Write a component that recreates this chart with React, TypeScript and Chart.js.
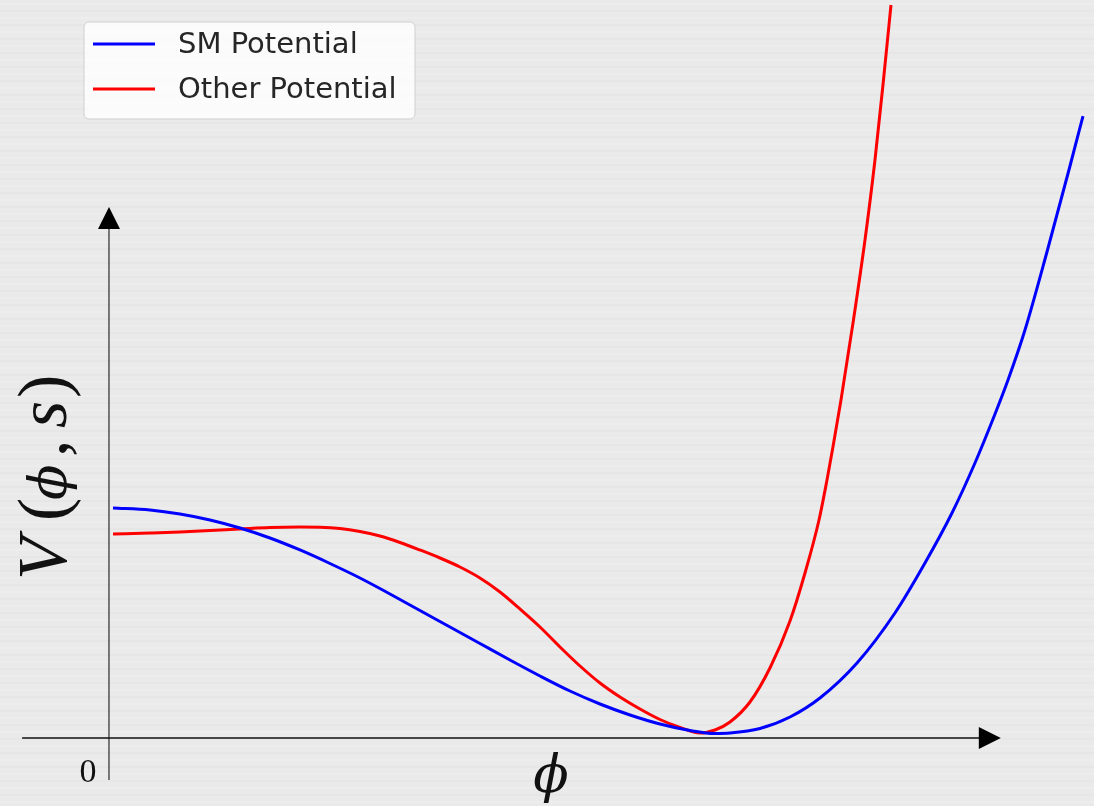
import { useEffect, useRef } from "react";
import { Chart, registerables } from "chart.js";

Chart.register(...registerables);

// phi values (field, in units of the vev) and potential values V (arbitrary units)
const smPhi = [0.0068, 0.0694, 0.1201, 0.1709, 0.2217, 0.2724, 0.3232, 0.3739, 0.4247, 0.4755, 0.5262, 0.577, 0.6277, 0.6785, 0.7293, 0.78, 0.8308, 0.8816, 0.9323, 0.9831, 1.0254, 1.0508, 1.1015, 1.1523, 1.203, 1.2657, 1.3299, 1.3807, 1.4264, 1.4653, 1.4992, 1.5212, 1.5499, 1.5871, 1.6261, 1.6481];
const smV = [1.0, 0.9913, 0.9739, 0.9478, 0.913, 0.8696, 0.8174, 0.7587, 0.6957, 0.6261, 0.5543, 0.4826, 0.4109, 0.3391, 0.2696, 0.2043, 0.1478, 0.1, 0.0609, 0.0326, 0.0196, 0.0217, 0.0413, 0.0913, 0.1739, 0.3261, 0.5435, 0.7609, 0.9783, 1.1957, 1.4087, 1.5565, 1.7739, 2.113, 2.487, 2.7043];

const otherPhi = [0.0068, 0.0694, 0.1201, 0.1709, 0.2217, 0.2724, 0.3232, 0.357, 0.3909, 0.4247, 0.4585, 0.4924, 0.5262, 0.5601, 0.5939, 0.6277, 0.6616, 0.6954, 0.7293, 0.7631, 0.797, 0.8308, 0.8646, 0.8985, 0.9323, 0.9662, 1.0, 1.0254, 1.0508, 1.0846, 1.1184, 1.1523, 1.1777, 1.2014, 1.2149, 1.225, 1.2386, 1.2597, 1.2792, 1.2961, 1.3105, 1.3232];
const otherV = [0.887, 0.8913, 0.8957, 0.9022, 0.9087, 0.9152, 0.9174, 0.9165, 0.9109, 0.8978, 0.8783, 0.85, 0.8174, 0.7826, 0.7435, 0.6957, 0.6348, 0.5609, 0.4826, 0.3957, 0.313, 0.2391, 0.1783, 0.1261, 0.0804, 0.0457, 0.0217, 0.0348, 0.0696, 0.1565, 0.3043, 0.5087, 0.7174, 0.9478, 1.1217, 1.2652, 1.4696, 1.8174, 2.1652, 2.513, 2.8609, 3.187];

const seriesLabels = ["SM Potential", "Other Potential"];
const seriesColors = ["#0000ff", "#ff0000"];

// view window and axis extents (data units)
const X_MIN = -0.1844;
const X_MAX = 1.6667;
const Y_MIN = -0.2957;
const Y_MAX = 3.2087;
const X_AXIS_FROM = -0.147;
const X_AXIS_TO = 1.509;
const Y_AXIS_FROM = -0.183;
const Y_AXIS_TO = 2.309;

const W = 1094;
const H = 806;

const SERIF = "'Liberation Serif', 'DejaVu Serif', serif";

const decorPlugin = {
  id: "decor",
  beforeDraw(chart: any) {
    const ctx = chart.ctx as CanvasRenderingContext2D;
    ctx.save();
    ctx.fillStyle = "#eaeaea";
    ctx.fillRect(0, 0, chart.width, chart.height);
    // faint horizontal paper streaks
    ctx.globalAlpha = 0.35;
    for (let y = 3; y < chart.height; y += 7) {
      ctx.fillStyle = (y / 7) % 2 < 1 ? "#f4f4f4" : "#e0e0e0";
      ctx.fillRect(0, y, chart.width, 2);
    }
    ctx.restore();

    const xs = chart.scales.x;
    const ys = chart.scales.y;
    const x0 = xs.getPixelForValue(0);
    const y0 = ys.getPixelForValue(0);

    ctx.save();
    // y axis
    const yTop = ys.getPixelForValue(Y_AXIS_TO);
    const yBot = ys.getPixelForValue(Y_AXIS_FROM);
    ctx.strokeStyle = "#3a3a3a";
    ctx.lineWidth = 1.3;
    ctx.beginPath();
    ctx.moveTo(x0, yBot);
    ctx.lineTo(x0, yTop + 20);
    ctx.stroke();
    ctx.fillStyle = "#000";
    ctx.beginPath();
    ctx.moveTo(x0, yTop);
    ctx.lineTo(x0 - 11, yTop + 22);
    ctx.lineTo(x0 + 11, yTop + 22);
    ctx.closePath();
    ctx.fill();

    // x axis
    const xL = xs.getPixelForValue(X_AXIS_FROM);
    const xR = xs.getPixelForValue(X_AXIS_TO);
    ctx.strokeStyle = "#111";
    ctx.lineWidth = 1.5;
    ctx.beginPath();
    ctx.moveTo(xL, y0);
    ctx.lineTo(xR - 20, y0);
    ctx.stroke();
    ctx.beginPath();
    ctx.moveTo(xR, y0);
    ctx.lineTo(xR - 22, y0 - 11);
    ctx.lineTo(xR - 22, y0 + 11);
    ctx.closePath();
    ctx.fill();

    // "0" label
    ctx.fillStyle = "#111";
    ctx.font = `34px ${SERIF}`;
    ctx.textAlign = "center";
    ctx.textBaseline = "alphabetic";
    ctx.fillText("0", x0 - 21, y0 + 44);

    // phi label
    ctx.font = "italic 52px 'DejaVu Serif', serif";
    ctx.fillText("\u03D5", xs.getPixelForValue(0.748), y0 + 54);

    // y label V(phi, s), rotated
    ctx.rotate(-Math.PI / 2);
    ctx.textAlign = "left";
    ctx.textBaseline = "alphabetic";
    const base = 66;
    const parts: [string, string, number][] = [
      ["V", `italic 70px ${SERIF}`, 580],
      ["(", `70px ${SERIF}`, 521],
      ["\u03D5", "italic 52px 'DejaVu Serif', serif", 500],
      [",", `70px ${SERIF}`, 457],
      ["s", `italic 70px ${SERIF}`, 428],
      [")", `70px ${SERIF}`, 398],
    ];
    parts.forEach(([t, f, start]) => {
      ctx.font = f;
      ctx.fillText(t, -start, base);
    });
    ctx.restore();
  },
  afterDatasetsDraw(chart: any) {
    const ctx = chart.ctx as CanvasRenderingContext2D;
    ctx.save();
    const bx = 84, by = 22, bw = 331, bh = 97, r = 5;
    ctx.beginPath();
    ctx.moveTo(bx + r, by);
    ctx.arcTo(bx + bw, by, bx + bw, by + bh, r);
    ctx.arcTo(bx + bw, by + bh, bx, by + bh, r);
    ctx.arcTo(bx, by + bh, bx, by, r);
    ctx.arcTo(bx, by, bx + bw, by, r);
    ctx.closePath();
    ctx.fillStyle = "rgba(255,255,255,0.8)";
    ctx.fill();
    ctx.strokeStyle = "#d0d0d0";
    ctx.lineWidth = 1;
    ctx.stroke();

    ctx.font = "29px 'DejaVu Sans', sans-serif";
    ctx.textBaseline = "middle";
    ctx.textAlign = "left";
    chart.data.datasets.forEach((ds: any, i: number) => {
      const ly = 44 + i * 45;
      ctx.strokeStyle = ds.borderColor;
      ctx.lineWidth = 3;
      ctx.beginPath();
      ctx.moveTo(93, ly);
      ctx.lineTo(155, ly);
      ctx.stroke();
      ctx.fillStyle = "#262626";
      ctx.fillText(ds.label, 178, ly + 1);
    });
    ctx.restore();
  },
};

export default function App() {
  const ref = useRef<HTMLCanvasElement>(null);
  useEffect(() => {
    if (!ref.current) return;
    const chart = new Chart(ref.current, {
      type: "line",
      data: {
        datasets: [
          {
            label: seriesLabels[0],
            data: smPhi.map((x, i) => ({ x, y: smV[i] })),
            borderColor: seriesColors[0],
            borderWidth: 3,
            pointRadius: 0,
            cubicInterpolationMode: "monotone",
            fill: false,
          },
          {
            label: seriesLabels[1],
            data: otherPhi.map((x, i) => ({ x, y: otherV[i] })),
            borderColor: seriesColors[1],
            borderWidth: 3,
            pointRadius: 0,
            cubicInterpolationMode: "monotone",
            fill: false,
          },
        ],
      },
      options: {
        responsive: false,
        animation: false,
        devicePixelRatio: 1,
        layout: { padding: 0 },
        scales: {
          x: { type: "linear", min: X_MIN, max: X_MAX, display: false },
          y: { type: "linear", min: Y_MIN, max: Y_MAX, display: false },
        },
        plugins: { legend: { display: false }, tooltip: { enabled: false } },
      },
      plugins: [decorPlugin],
    });
    return () => chart.destroy();
  }, []);
  return (
    <div style={{ position: "absolute", left: 0, top: 0, width: W, height: H }}>
      <canvas ref={ref} width={W} height={H} style={{ display: "block" }} />
    </div>
  );
}
